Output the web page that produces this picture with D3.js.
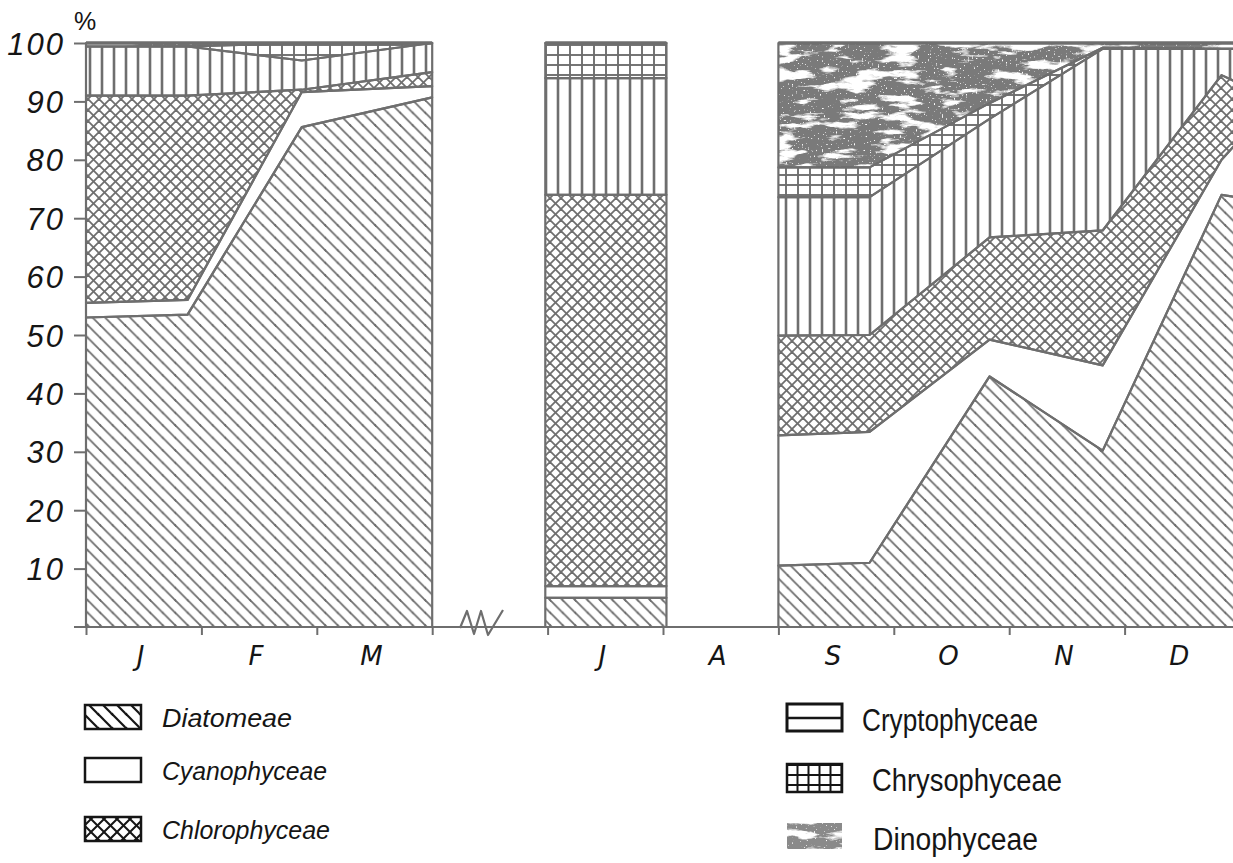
<!DOCTYPE html>
<html>
<head>
<meta charset="utf-8">
<script src="https://cdn.jsdelivr.net/npm/d3@7"></script>
<style>
  html, body { margin: 0; padding: 0; background: #fff; }
  svg { display: block; }
</style>
</head>
<body>
<svg id="chart" width="1233" height="863"></svg>
<script>
// ---------------- DATA ----------------
const seriesNames = ["Diatomeae", "Cyanophyceae", "Chlorophyceae", "Cryptophyceae", "Chrysophyceae", "Dinophyceae"];
// sampling positions in "month slots" (J F M | break | J A S O N D)
const positions = [0, 0.88, 1.87, 3, 3.98, 5.03, 6, 6.79, 7.83, 8.81, 9.84, 10];
const segment   = [1, 1, 1, 1, 2, 2, 3, 3, 3, 3, 3, 3];
const diatomeae     = [53, 53.5, 85.6, 90.7, 5, 5, 10.5, 11, 42.9, 30.2, 74, 73.5];
const cyanophyceae  = [2.5, 2.5, 6, 1.9, 2, 2, 22.3, 22.4, 6.3, 14.6, 6, 10];
const chlorophyceae = [35.5, 35, 0.4, 2.4, 67, 67, 17.1, 16.6, 17.5, 23.1, 14.5, 9.5];
const cryptophyceae = [8.4, 8.4, 5, 5, 20, 20, 23.7, 23.6, 20.3, 31.1, 4.5, 6];
const chrysophyceae = [0, 0, 3, 0, 6, 6, 5.1, 5.1, 2.7, 0.2, 0, 0];
const dinophyceae   = [0.6, 0.6, 0, 0, 0, 0, 21.3, 21.3, 10.3, 0.8, 1, 1];

const yTicks = [10, 20, 30, 40, 50, 60, 70, 80, 90, 100];
const monthTicks = [0, 1, 2, 3, 4, 5, 6, 7, 8, 9, 10];
const monthLabels = ["J", "F", "M", "", "J", "A", "S", "O", "N", "D"];
const legendLeft = ["Diatomeae", "Cyanophyceae", "Chlorophyceae"];
const legendRight = ["Cryptophyceae", "Chrysophyceae", "Dinophyceae"];

// ---------------- SETUP ----------------
const svg = d3.select("#chart");
const W = 1233, H = 863;
const LINE = "#6e6e6e";
const INK = "#151515";

const x = d3.scaleLinear().domain([0, 10]).range([86, 1240]);
const y = d3.scaleLinear().domain([0, 100]).range([627, 43]);

const defs = svg.append("defs");

function linePattern(id, w, h, lines, color, sw) {
  const p = defs.append("pattern").attr("id", id)
    .attr("patternUnits", "userSpaceOnUse").attr("width", w).attr("height", h);
  p.append("rect").attr("width", w).attr("height", h).attr("fill", "#fff");
  lines.forEach(l => p.append("line")
    .attr("x1", l[0]).attr("y1", l[1]).attr("x2", l[2]).attr("y2", l[3])
    .attr("stroke", color).attr("stroke-width", sw).attr("stroke-linecap", "square"));
}
// chart patterns
const d = 12.5;
linePattern("pDiat", d, d, [[0, 0, d, d], [-d, 0, 0, d], [d, 0, 2 * d, d], [0, -d, d, 0], [0, d, d, 2 * d]], LINE, 1.8);
const c = 11;
linePattern("pChlo", c, c, [[0, 0, c, c], [0, c, c, 0], [-c, 0, 0, c], [c, 0, 2*c, c], [-c, c, 0, 0], [c, c, 2*c, 0]], LINE, 1.8);
linePattern("pCrypt", 12, 10, [[6, -1, 6, 11]], LINE, 2.6);
linePattern("pChrys", 12, 10, [[6, -1, 6, 11], [-1, 5, 13, 5]], LINE, 1.9);
// legend patterns
linePattern("lDiat", 14, 14, [[0, 0, 14, 14], [-14, 0, 0, 14], [14, 0, 28, 14], [0, -14, 14, 0], [0, 14, 14, 28]], INK, 2.2);
linePattern("lChlo", 13, 13, [[0, 0, 13, 13], [0, 13, 13, 0], [-13, 0, 0, 13], [13, 0, 26, 13], [-13, 13, 0, 0], [13, 13, 26, 0]], INK, 2);
linePattern("lChrys", 11, 10, [[5.5, -1, 5.5, 11], [-1, 5, 12, 5]], INK, 2);

// mottled texture for Dinophyceae
const f = defs.append("filter").attr("id", "mottle")
  .attr("filterUnits", "userSpaceOnUse").attr("x", 0).attr("y", 0).attr("width", W).attr("height", H);
f.append("feTurbulence").attr("type", "fractalNoise").attr("baseFrequency", "0.025 0.1")
  .attr("numOctaves", 5).attr("seed", 4).attr("result", "n");
f.append("feColorMatrix").attr("in", "n").attr("type", "matrix")
  .attr("values", "0 0 0 0 1  0 0 0 0 1  0 0 0 0 1  9 0 0 0 -4.75").attr("result", "w");
f.append("feTurbulence").attr("type", "fractalNoise").attr("baseFrequency", "0.5")
  .attr("numOctaves", 2).attr("seed", 9).attr("result", "n2");
f.append("feColorMatrix").attr("in", "n2").attr("type", "matrix")
  .attr("values", "0 0 0 0 1  0 0 0 0 1  0 0 0 0 1  12 0 0 0 -8.2").attr("result", "w2");
f.append("feComposite").attr("in", "w").attr("in2", "SourceGraphic").attr("operator", "in").attr("result", "wc");
f.append("feComposite").attr("in", "w2").attr("in2", "SourceGraphic").attr("operator", "in").attr("result", "wc2");
const fm = f.append("feMerge");
fm.append("feMergeNode").attr("in", "SourceGraphic");
fm.append("feMergeNode").attr("in", "wc");
fm.append("feMergeNode").attr("in", "wc2");

const fills = ["url(#pDiat)", "#fff", "url(#pChlo)", "url(#pCrypt)", "url(#pChrys)", "#7a7a7a"];

// ---------------- AREAS ----------------
const rows = positions.map((p, i) => ({
  s: p, seg: segment[i],
  Diatomeae: diatomeae[i], Cyanophyceae: cyanophyceae[i], Chlorophyceae: chlorophyceae[i],
  Cryptophyceae: cryptophyceae[i], Chrysophyceae: chrysophyceae[i], Dinophyceae: dinophyceae[i]
}));

const stack = d3.stack().keys(seriesNames);
const area = d3.area().x(dd => x(dd.data.s)).y0(dd => y(dd[0])).y1(dd => y(dd[1]));

const plot = svg.append("g");
[1, 2, 3].forEach(sg => {
  const segRows = rows.filter(r => r.seg === sg);
  const layers = stack(segRows);
  layers.forEach((layer, k) => {
    plot.append("path")
      .attr("d", area(layer))
      .attr("fill", fills[k])
      .attr("filter", k === 5 ? "url(#mottle)" : null)
      .attr("stroke", "none");
  });
  layers.forEach((layer, k) => {
    plot.append("path")
      .attr("d", area(layer))
      .attr("fill", "none")
      .attr("stroke", LINE).attr("stroke-width", 2.2).attr("stroke-linejoin", "round");
  });
  // top border
  plot.append("line")
    .attr("x1", x(segRows[0].s)).attr("x2", x(segRows[segRows.length - 1].s))
    .attr("y1", y(100)).attr("y2", y(100))
    .attr("stroke", LINE).attr("stroke-width", 3.5);
});

// ---------------- AXES ----------------
const yAxis = d3.axisLeft(y).tickValues(yTicks).tickSize(12).tickPadding(9).tickFormat(d3.format("d"));
const gy = svg.append("g").attr("transform", "translate(86,0)").call(yAxis);
gy.select(".domain").remove();
gy.selectAll(".tick line").attr("stroke", LINE).attr("stroke-width", 2);
gy.selectAll(".tick text")
  .attr("fill", INK).attr("font-family", "Liberation Sans, Arial, sans-serif")
  .attr("font-style", "italic").attr("font-size", 31).attr("letter-spacing", 2)
  .attr("dy", "0.36em");

svg.append("text").attr("x", 74).attr("y", 30).text("%")
  .attr("fill", INK).attr("font-family", "Liberation Sans, Arial, sans-serif").attr("font-size", 25);

const xAxis = d3.axisBottom(x).tickValues(monthTicks).tickSize(8).tickFormat("");
const gx = svg.append("g").attr("transform", `translate(0,${y(0)})`).call(xAxis);
gx.select(".domain").remove();
gx.selectAll(".tick line").attr("stroke", LINE).attr("stroke-width", 2);
svg.append("line").attr("x1", 74).attr("x2", W).attr("y1", y(0)).attr("y2", y(0))
  .attr("stroke", LINE).attr("stroke-width", 2);

// axis break mark
const bx = 460;
const by = y(0);
svg.append("path")
  .attr("d", `M${bx},${by + 1} L${bx + 7},${by - 16} L${bx + 14},${by + 7} L${bx + 21},${by - 16} L${bx + 28},${by + 8} L${bx + 43},${by - 17}`)
  .attr("fill", "none").attr("stroke", LINE).attr("stroke-width", 2.2).attr("stroke-linejoin", "round");

svg.append("g").selectAll("text").data(monthLabels).join("text")
  .attr("x", (t, i) => x(i + 0.5) - 3).attr("y", 665)
  .attr("text-anchor", "middle")
  .attr("fill", INK).attr("font-family", "DejaVu Sans, Verdana, sans-serif")
  .attr("font-style", "italic").attr("font-size", 26)
  .text(t => t);

// ---------------- LEGEND ----------------
const leftFill = ["url(#lDiat)", "#fff", "url(#lChlo)"];
const leftY = [705, 758, 817];
const leftW = [130, 165, 168];
const lg = svg.append("g");
legendLeft.forEach((name, i) => {
  lg.append("rect").attr("x", 85).attr("y", leftY[i]).attr("width", 56).attr("height", 24)
    .attr("fill", leftFill[i]).attr("stroke", INK).attr("stroke-width", 2.5);
  lg.append("text").attr("x", 162).attr("y", leftY[i] + 22)
    .attr("fill", INK).attr("font-family", "Liberation Sans, Arial, sans-serif")
    .attr("font-style", "italic").attr("font-size", 26)
    .attr("textLength", leftW[i]).attr("lengthAdjust", "spacingAndGlyphs")
    .text(name);
});

const rightY = [704, 764, 823];
const rightTx = [862, 872, 873];
const rightW = [176, 190, 165];
legendRight.forEach((name, i) => {
  const ry = rightY[i];
  if (i === 0) {
    lg.append("rect").attr("x", 787).attr("y", ry).attr("width", 55).attr("height", 27)
      .attr("fill", "#fff").attr("stroke", INK).attr("stroke-width", 3);
    lg.append("line").attr("x1", 787).attr("x2", 842).attr("y1", ry + 14).attr("y2", ry + 14)
      .attr("stroke", INK).attr("stroke-width", 2.5);
  } else if (i === 1) {
    lg.append("rect").attr("x", 787).attr("y", ry).attr("width", 55).attr("height", 28)
      .attr("fill", "url(#lChrys)").attr("stroke", INK).attr("stroke-width", 2.5);
  } else {
    lg.append("rect").attr("x", 787).attr("y", ry).attr("width", 55).attr("height", 26)
      .attr("fill", "#8a8a8a").attr("filter", "url(#mottle)");
  }
  lg.append("text").attr("x", rightTx[i]).attr("y", ry + 27)
    .attr("fill", INK).attr("font-family", "Liberation Sans, Arial, sans-serif")
    .attr("font-size", 31)
    .attr("textLength", rightW[i]).attr("lengthAdjust", "spacingAndGlyphs")
    .text(name);
});
</script>
</body>
</html>
